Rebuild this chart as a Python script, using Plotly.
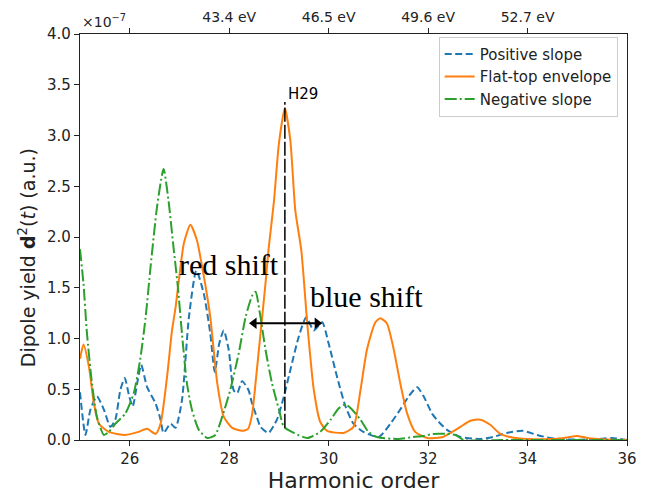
import plotly.graph_objects as go

# ---------------- data ----------------
pos_q = [25.0, 25.11, 25.21, 25.34, 25.48, 25.61, 25.71, 25.81, 25.90, 25.99, 26.06, 26.15, 26.23,
         26.35, 26.52, 26.62, 26.68, 26.82, 26.92, 27.05, 27.19, 27.34, 27.49, 27.62, 27.71, 27.80,
         27.89, 27.99, 28.09, 28.16, 28.26, 28.39, 28.46, 28.56, 28.63, 28.79, 28.96, 29.10, 29.23,
         29.40, 29.55, 29.70, 29.87, 30.00, 30.17, 30.34, 30.50, 30.70, 31.01, 31.24, 31.44, 31.61,
         31.78, 31.91, 32.08, 32.21, 32.38, 32.65, 33.05, 33.31, 33.59, 33.90, 34.19, 34.45, 34.80,
         35.30, 35.70, 36.0]
pos_v = [0.47, 0.05, 0.30, 0.43, 0.30, 0.13, 0.20, 0.49, 0.61, 0.43, 0.33, 0.56, 0.74,
         0.52, 0.36, 0.20, 0.07, 0.16, 0.12, 0.39, 1.21, 1.67, 1.44, 1.05, 0.67, 0.95,
         1.08, 0.89, 0.49, 0.46, 0.58, 0.49, 0.36, 0.22, 0.13, 0.07, 0.20, 0.43, 0.69,
         1.02, 1.21, 1.08, 1.16, 0.95, 0.62, 0.33, 0.16, 0.08, 0.03, 0.16, 0.30, 0.43,
         0.52, 0.43, 0.26, 0.18, 0.10, 0.03, 0.01, 0.03, 0.07, 0.09, 0.05, 0.02, 0.005,
         0.005, 0.02, 0.0]

flat_q = [25.0, 25.07, 25.18, 25.28, 25.38, 25.58, 25.91, 26.18, 26.35, 26.52, 26.62, 26.75, 26.85,
          26.92, 26.98, 27.09, 27.22, 27.35, 27.44, 27.53, 27.62, 27.76, 27.89, 28.06, 28.26, 28.38,
          28.46, 28.53, 28.63, 28.73, 28.79, 28.90, 29.00, 29.12, 29.23, 29.33, 29.45, 29.57, 29.70,
          29.83, 29.97, 30.30, 30.50, 30.64, 30.77, 30.94, 31.04, 31.17, 31.31, 31.44, 31.58, 31.74,
          31.98, 32.30, 32.45, 32.65, 32.85, 33.05, 33.25, 33.45, 33.65, 34.0, 34.5, 34.73, 35.0,
          35.2, 35.6, 36.0]
flat_v = [0.80, 0.94, 0.72, 0.36, 0.16, 0.08, 0.05, 0.08, 0.11, 0.06, 0.16, 0.62, 1.08,
          1.30, 1.54, 1.94, 2.12, 1.97, 1.75, 1.50, 1.21, 0.56, 0.23, 0.12, 0.09, 0.11,
          0.25, 0.56, 1.05, 1.54, 1.87, 2.35, 2.92, 3.27, 2.95, 2.26, 1.87, 1.15, 0.50,
          0.18, 0.09, 0.07, 0.13, 0.49, 0.89, 1.16, 1.20, 1.15, 0.89, 0.56, 0.26, 0.08,
          0.02, 0.03, 0.07, 0.13, 0.19, 0.20, 0.15, 0.06, 0.03, 0.01, 0.01, 0.02, 0.04,
          0.02, 0.005, 0.0]

neg_q = [25.0, 25.07, 25.14, 25.24, 25.34, 25.48, 25.58, 25.71, 25.91, 26.08, 26.21, 26.32, 26.42,
         26.55, 26.68, 26.78, 26.88, 26.97, 27.05, 27.15, 27.25, 27.39, 27.56, 27.72, 27.86, 28.02,
         28.19, 28.33, 28.46, 28.53, 28.63, 28.73, 28.86, 29.00, 29.10, 29.30, 29.57, 29.83, 30.04,
         30.20, 30.34, 30.47, 30.64, 30.80, 30.97, 31.40, 31.70, 31.91, 32.10, 32.38, 32.55, 32.72,
         33.50, 36.0]
neg_v = [1.88, 1.54, 1.05, 0.56, 0.23, 0.05, 0.08, 0.16, 0.26, 0.46, 0.79, 1.21, 1.71,
         2.30, 2.67, 2.36, 1.90, 1.50, 1.05, 0.56, 0.30, 0.10, 0.02, 0.05, 0.23, 0.49,
         0.85, 1.21, 1.42, 1.46, 1.21, 0.89, 0.56, 0.30, 0.13, 0.07, 0.02, 0.08, 0.20,
         0.31, 0.35, 0.30, 0.20, 0.08, 0.03, 0.01, 0.03, 0.04, 0.06, 0.06, 0.05, 0.0,
         0.0, 0.0]

series_names = ["Positive slope", "Flat-top envelope", "Negative slope"]

h29_x = [29.12, 29.12]
h29_y = [0.12, 3.33]

shift_arrow_x = [28.50, 29.77]
shift_arrow_y = [1.15, 1.15]

bottom_ticks = [26, 28, 30, 32, 34, 36]
top_ticks = [28, 30, 32, 34]
top_labels = ["43.4 eV", "46.5 eV", "49.6 eV", "52.7 eV"]
top_unlabeled_ticks = [26]
y_ticks = [0.0, 0.5, 1.0, 1.5, 2.0, 2.5, 3.0, 3.5, 4.0]

# ---------------- figure ----------------
FONT = "DejaVu Sans"
fig = go.Figure()

fig.add_trace(go.Scatter(x=pos_q, y=pos_v, name=series_names[0], mode="lines",
                         line=dict(color="#1f77b4", width=2, dash="7px,3.5px", shape="spline", smoothing=0.6)))
fig.add_trace(go.Scatter(x=flat_q, y=flat_v, name=series_names[1], mode="lines",
                         line=dict(color="#ff7f0e", width=2, shape="spline", smoothing=0.6)))
fig.add_trace(go.Scatter(x=neg_q, y=neg_v, name=series_names[2], mode="lines",
                         line=dict(color="#2ca02c", width=2, dash="12px,3px,2px,3px", shape="spline", smoothing=0.6)))

# H29 marker line
fig.add_trace(go.Scatter(x=h29_x, y=h29_y, mode="lines", showlegend=False, hoverinfo="skip",
                         line=dict(color="black", width=1.5, dash="14px,3px")))

# double arrow (red / blue shift)
fig.add_trace(go.Scatter(x=shift_arrow_x, y=shift_arrow_y, mode="lines+markers", showlegend=False,
                         hoverinfo="skip", line=dict(color="black", width=2),
                         marker=dict(symbol=["triangle-left", "triangle-right"], size=10, color="black")))

# invisible trace to activate the top axis
fig.add_trace(go.Scatter(x=[25, 36], y=[None, None], xaxis="x2", showlegend=False, hoverinfo="skip"))

axis_line = dict(showline=True, linecolor="#222", linewidth=1.2, ticks="outside",
                 tickcolor="#222", ticklen=5, tickwidth=1.2, showgrid=False, zeroline=False,
                 automargin=False)

fig.update_layout(
    width=647, height=493,
    margin=dict(l=80, r=20, t=34, b=53),
    paper_bgcolor="white", plot_bgcolor="white",
    font=dict(family=FONT, color="#222"),
    xaxis=dict(range=[25, 36], tickvals=bottom_ticks, ticktext=[str(t) for t in bottom_ticks],
               tickfont=dict(size=15), mirror=True,
               title=dict(text="Harmonic order", font=dict(size=22), standoff=2), **axis_line),
    xaxis2=dict(range=[25, 36], overlaying="x", side="top", tickvals=top_ticks, ticktext=top_labels,
                tickfont=dict(size=14),
                minor=dict(tickvals=top_unlabeled_ticks, ticks="outside", ticklen=5, tickwidth=1.2,
                           tickcolor="#222", showgrid=False),
                **axis_line),
    yaxis=dict(range=[0, 4.0], tickvals=y_ticks, ticktext=[f"{t:.1f}" for t in y_ticks],
               tickfont=dict(size=15), mirror=True, **axis_line),
    legend=dict(x=0.983, y=0.993, xanchor="right", yanchor="top",
                bgcolor="rgba(255,255,255,0.85)", bordercolor="#ccc", borderwidth=1,
                font=dict(size=15), tracegroupgap=0, itemwidth=30),
    showlegend=True,
)

# y-axis title (placed as rotated text to match the reference's vertical position)
fig.add_annotation(x=-0.097, y=0.45, xref="paper", yref="paper", xanchor="center", yanchor="middle",
                   textangle=-90, showarrow=False,
                   text="Dipole yield <b>d</b><sup>2</sup>(<i>t</i>) (a.u.)",
                   font=dict(family=FONT, size=19, color="#222"))
fig.add_annotation(x=27.99, y=1.73, xref="x", yref="y", text="red shift", showarrow=False,
                   font=dict(family="Liberation Serif", size=30, color="black"))
fig.add_annotation(x=30.77, y=1.41, xref="x", yref="y", text="blue shift", showarrow=False,
                   font=dict(family="Liberation Serif", size=30, color="black"))
fig.add_annotation(x=29.14, y=3.41, xref="x", yref="y", text="H29", showarrow=False, xanchor="left",
                   font=dict(family=FONT, size=15, color="black"))
fig.add_annotation(x=0, y=1, xref="paper", yref="paper", xanchor="left", yanchor="bottom",
                   text="×10<sup>−7</sup>", showarrow=False, yshift=2,
                   font=dict(family=FONT, size=14, color="#222"))

fig.write_html("out.html")
